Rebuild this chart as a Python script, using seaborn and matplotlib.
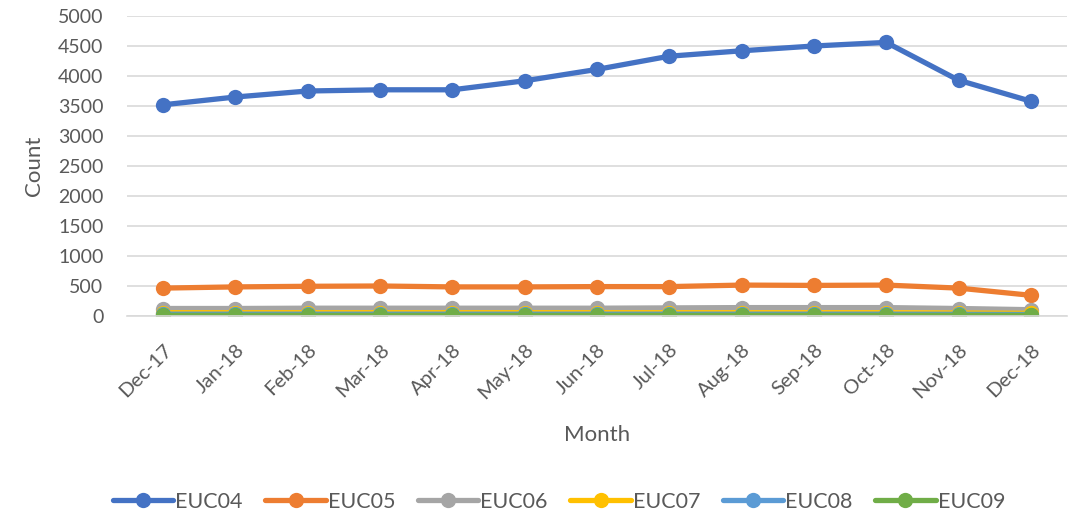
import matplotlib
matplotlib.use("Agg")
import matplotlib.pyplot as plt
from matplotlib.ticker import FixedLocator
import seaborn as sns
import pandas as pd
import numpy as np

months = ["Dec-17", "Jan-18", "Feb-18", "Mar-18", "Apr-18", "May-18", "Jun-18",
          "Jul-18", "Aug-18", "Sep-18", "Oct-18", "Nov-18", "Dec-18"]
euc04 = [3520, 3650, 3750, 3770, 3770, 3920, 4110, 4330, 4420, 4500, 4560, 3930, 3580]
euc05 = [465, 485, 495, 500, 485, 485, 490, 490, 515, 510, 515, 465, 345]
euc06 = [125, 125, 130, 130, 130, 130, 130, 135, 140, 140, 140, 125, 105]
euc07 = [55, 55, 55, 55, 55, 55, 55, 55, 55, 55, 55, 50, 45]
euc08 = [30, 30, 30, 30, 30, 30, 30, 30, 30, 30, 30, 28, 25]
euc09 = [12, 12, 12, 12, 12, 12, 12, 12, 12, 12, 12, 12, 10]

series = {"EUC04": euc04, "EUC05": euc05, "EUC06": euc06,
          "EUC07": euc07, "EUC08": euc08, "EUC09": euc09}
colors = ["#4472C4", "#ED7D31", "#A5A5A5", "#FFC000", "#5B9BD5", "#70AD47"]

df = pd.DataFrame([
    {"Month": m, "pos": i, "Count": v, "Series": name}
    for name, vals in series.items()
    for i, (m, v) in enumerate(zip(months, vals))
])

sns.set_theme(style="white")
plt.rcParams["font.family"] = ["Lato", "DejaVu Sans"]
text_col = "#595959"

fig = plt.figure(figsize=(10.69, 5.13), dpi=100)
ax = fig.add_axes([127 / 1069, 197 / 513, 940 / 1069, 300 / 513])

sns.lineplot(data=df, x="pos", y="Count", hue="Series", palette=colors,
             marker="o", markersize=11, markeredgewidth=0, linewidth=3.8,
             ax=ax, legend=False, sort=False)

ax.set_xlim(-0.5, 12.5)
ax.set_ylim(0, 5000)
ax.set_yticks(np.arange(0, 5001, 500))
ax.set_yticklabels([str(v) for v in range(0, 5001, 500)], fontsize=14, color=text_col)
ax.yaxis.grid(True, color="#D9D9D9", linewidth=1.2)
ax.set_axisbelow(True)

ax.set_xticks(range(len(months)))
ax.set_xticklabels(months, rotation=45, ha="right", rotation_mode="anchor",
                   fontsize=14.5, color=text_col)
ax.xaxis.set_minor_locator(FixedLocator(np.arange(-0.5, 13, 1.0)))
ax.tick_params(axis="x", which="major", length=0, pad=18)
ax.tick_params(axis="x", which="minor", length=6, color="#D9D9D9", width=1.2)
ax.tick_params(axis="y", length=0, pad=17)

for s in ["top", "right", "left"]:
    ax.spines[s].set_visible(False)
ax.spines["bottom"].set_color("#D9D9D9")
ax.spines["bottom"].set_linewidth(1.2)

ax.set_xlabel("Month", fontsize=16, color=text_col, labelpad=16)
ax.set_ylabel("Count", fontsize=16, color=text_col, labelpad=10)

handles = [plt.Line2D([], [], color=c, marker="o", markersize=11, linewidth=3.8,
                      markeredgewidth=0) for c in colors]
leg = fig.legend(handles, list(series.keys()), loc="lower center", ncol=6,
                 bbox_to_anchor=(0.523, -0.035), frameon=False, fontsize=15.5,
                 handlelength=2.8, columnspacing=1.05, handletextpad=0.1)
for t in leg.get_texts():
    t.set_color(text_col)

fig.savefig("out.png", dpi=100)
